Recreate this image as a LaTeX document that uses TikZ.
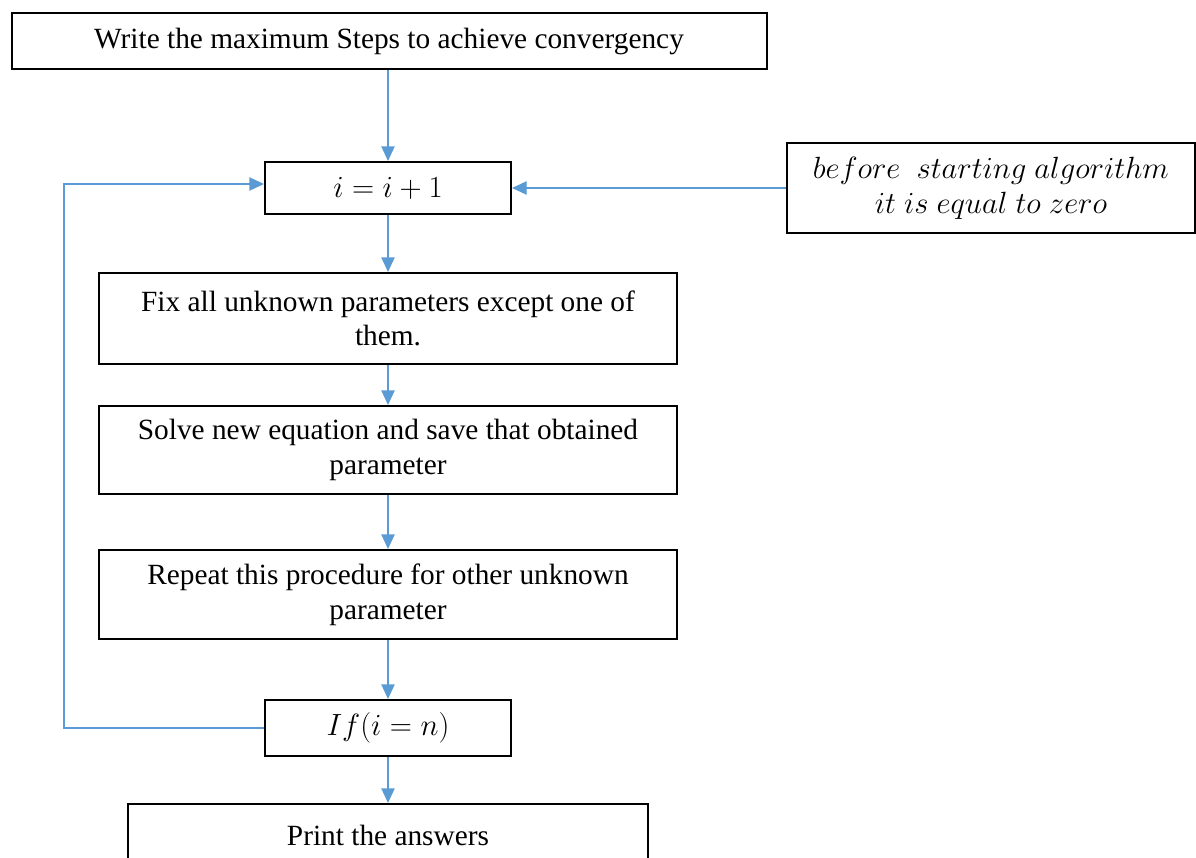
\documentclass[tikz,border=0pt]{standalone}
\usepackage{graphicx}
\usepackage{fontspec}
\setmainfont{Liberation Serif}
\usetikzlibrary{arrows.meta}
\definecolor{lnblue}{HTML}{5B9BD5}
\newcommand{\mymath}[1]{\scalebox{1.11}{$#1$}}
\begin{document}
\begin{tikzpicture}[x=0.75pt,y=-0.75pt,
  box/.style={draw=black,line width=1.5pt,fill=white,align=center,inner sep=2pt,font=\fontsize{22}{26}\selectfont},
  conn/.style={draw=lnblue,line width=1pt,-{Triangle[length=11pt,width=10pt]}},
  plain/.style={draw=lnblue,line width=1pt}]
\useasboundingbox (0,0) rectangle (1196,857);
\clip (0,0) rectangle (1196,857);
\node[box,minimum width=755*0.75pt,minimum height=56*0.75pt] (top) at (389,41) {Write the maximum Steps to achieve convergency};
\node[box,minimum width=246*0.75pt,minimum height=52*0.75pt] (inc) at (388,188) {\mymath{i=i+1}};
\node[box,minimum width=408*0.75pt,minimum height=90*0.75pt] (note) at (991,188) {\mymath{before\ \ starting\ algorithm}\\\mymath{it\ is\ equal\ to\ zero}};
\node[box,minimum width=578*0.75pt,minimum height=91*0.75pt] (fix) at (388,318.5) {Fix all unknown parameters except one of\\them.};
\node[box,minimum width=578*0.75pt,minimum height=88*0.75pt] (solve) at (388,450) {Solve new equation and save that obtained\\parameter};
\node[box,minimum width=578*0.75pt,minimum height=89*0.75pt] (rep) at (388,594.5) {Repeat this procedure for other unknown\\parameter};
\node[box,minimum width=246*0.75pt,minimum height=56*0.75pt] (if) at (388,728) {\mymath{If(i=n)}};
\node[box,minimum width=520*0.75pt,minimum height=90*0.75pt,text depth=0pt] (print) at (388,849) {};
\node[font=\fontsize{22}{26}\selectfont] (printtxt) at (388,835) {Print the answers};
\draw[conn] (top.south -| inc.north) -- (inc.north);
\draw[conn] (inc.south) -- (fix.north);
\draw[conn] (fix.south) -- (solve.north);
\draw[conn] (solve.south) -- (rep.north);
\draw[conn] (rep.south) -- (if.north);
\draw[conn] (if.south) -- (print.north);
\draw[conn] (note.west) -- (note.west -| inc.east);
\coordinate (lp) at (64,728);
\draw[conn] (if.west) -- (lp) |- ([yshift=3pt]inc.west);
\end{tikzpicture}
\end{document}
